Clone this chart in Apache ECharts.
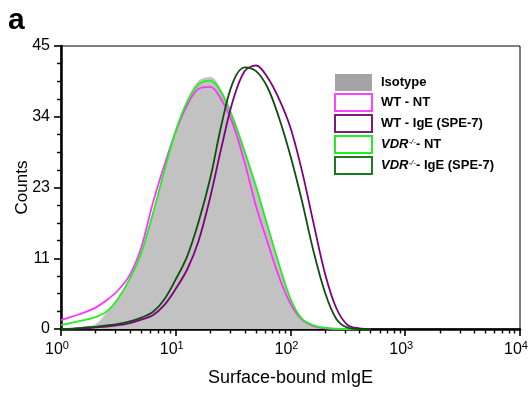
<!DOCTYPE html>
<html><head><meta charset="utf-8">
<script src="https://cdn.jsdelivr.net/npm/echarts@6/dist/echarts.min.js"></script>
<style>html,body{margin:0;padding:0;background:#fff}#c{width:529px;height:396px}</style>
</head><body><div id="c"></div>
<script>
// Fluorescence channel positions (bin centres, log spaced 0.1 decade)
const xValues = [1, 1.26, 1.58, 2.0, 2.51, 3.16, 3.98, 5.01, 6.31, 7.94, 10, 12.6, 15.8, 20.0, 25.1, 31.6, 39.8, 50.1, 63.1, 79.4, 100, 126, 158, 200, 251, 316, 398, 501];
const isotype   = [0, 0.1, 0.3, 0.7, 2.6, 4.7, 7.8, 12.0, 18.3, 25.0, 31.4, 36.4, 39.4, 40.0, 37.9, 33.7, 28.4, 22.7, 16.4, 10.3, 4.7, 1.4, 0.5, 0.15, 0, 0, 0, 0];
const wtNT      = [1.4, 2.0, 2.6, 3.4, 4.6, 6.2, 8.6, 13.0, 20.0, 26.0, 31.4, 35.6, 38.2, 38.5, 36.4, 32.5, 26.5, 19.5, 13.8, 8.3, 4.0, 1.5, 0.5, 0.1, 0, 0, 0, 0];
const wtIgE     = [0, 0.02, 0.1, 0.25, 0.4, 0.6, 0.95, 1.5, 2.2, 3.8, 6.4, 9.5, 14.0, 21.0, 29.0, 36.4, 41.0, 41.9, 40.0, 36.6, 32.0, 25.1, 17.0, 8.8, 3.3, 0.6, 0.1, 0];
const vdrNT     = [0.6, 1.0, 1.4, 1.9, 2.8, 4.9, 8.0, 12.1, 18.3, 25.1, 31.5, 36.1, 38.9, 39.5, 37.5, 33.4, 28.2, 22.6, 16.4, 10.3, 4.8, 1.6, 0.6, 0.2, 0.05, 0, 0, 0];
const vdrIgE    = [0, 0.05, 0.22, 0.35, 0.56, 0.82, 1.2, 1.8, 2.7, 4.7, 7.9, 11.6, 17.0, 24.0, 32.6, 39.3, 41.6, 41.0, 38.4, 33.6, 27.5, 20.3, 12.5, 5.8, 1.6, 0.2, 0, 0];
const seriesNames = ['Isotype', 'WT - NT', 'WT - IgE (SPE-7)', 'VDR-/- - NT', 'VDR-/- - IgE (SPE-7)'];
const yTicks = [0, 11, 23, 34, 45];
const xDecades = [1, 10, 100, 1000, 10000];
const xMinorTicks = [2,3,4,5,6,7,8,9,20,30,40,50,60,70,80,90,200,300,400,500,600,700,800,900,2000,3000,4000,5000,6000,7000,8000,9000];

const FONT = '"Liberation Sans", Arial, sans-serif';
const pair = arr => xValues.map((x, i) => [x, arr[i]]);

const chart = echarts.init(document.getElementById('c'), null, {renderer: 'canvas'});
const lineSeries = (name, arr, color, z) => ({
  name, type: 'line', data: pair(arr), showSymbol: false, symbol: 'none',
  smooth: 0.35, lineStyle: {color, width: 1.8}, itemStyle: {color}, z, clip: true
});

const legendRich = {
  b: {fontFamily: FONT, fontWeight: 'bold', fontSize: 13, color: '#000'},
  i: {fontFamily: FONT, fontWeight: 'bold', fontStyle: 'italic', fontSize: 13, color: '#000'},
  s: {fontFamily: FONT, fontStyle: 'italic', fontSize: 8, color: '#000', verticalAlign: 'top', lineHeight: 8}
};

chart.setOption({
  animation: false,
  backgroundColor: '#fff',
  grid: {left: 61, right: 9, top: 46, bottom: 67, show: true, borderColor: '#000', borderWidth: 1,
         backgroundColor: 'transparent', outerBoundsMode: 'none', containLabel: false},
  graphic: [{type: 'text', left: 8, top: 6, style: {text: 'a', font: 'bold 30px ' + FONT, fill: '#000'}}],
  legend: {
    orient: 'vertical', left: 334, top: 74, itemWidth: 37, itemHeight: 17, itemGap: 2, padding: 0,
    selectedMode: false,
    data: [
      {name: seriesNames[0], icon: 'rect', itemStyle: {color: '#a4a3a7', borderWidth: 0}},
      {name: seriesNames[1], icon: 'rect', itemStyle: {color: '#fff', borderColor: '#ff44ff', borderWidth: 2}},
      {name: seriesNames[2], icon: 'rect', itemStyle: {color: '#fff', borderColor: '#7f1a80', borderWidth: 2}},
      {name: seriesNames[3], icon: 'rect', itemStyle: {color: '#fff', borderColor: '#22ee22', borderWidth: 2}},
      {name: seriesNames[4], icon: 'rect', itemStyle: {color: '#fff', borderColor: '#1d7a1d', borderWidth: 2}}
    ],
    formatter: n => {
      if (n.indexOf('VDR') === 0) return '{i|VDR}{s|-/-}{b|' + n.slice(7) + '}';
      return '{b|' + n + '}';
    },
    textStyle: {padding: [0, 0, 0, 4], rich: legendRich}
  },
  xAxis: [{
    type: 'log', logBase: 10, min: 1, max: 10000, position: 'bottom',
    name: 'Surface-bound mIgE', nameLocation: 'middle', nameGap: 40, nameMoveOverlap: false,
    nameTextStyle: {fontFamily: FONT, fontSize: 18, color: '#000'},
    axisLine: {show: true, lineStyle: {color: '#000', width: 2.5}},
    axisTick: {show: true, length: 7, lineStyle: {color: '#000', width: 1.6}},
    minorTick: {show: false},
    splitLine: {show: false},
    axisLabel: {
      margin: 11, showMinLabel: true, showMaxLabel: true, hideOverlap: false,
      formatter: v => '{b|10}{s|' + Math.round(Math.log10(v)) + '}',
      rich: {
        b: {fontFamily: FONT, fontSize: 16, color: '#000', lineHeight: 18, verticalAlign: 'bottom'},
        s: {fontFamily: FONT, fontSize: 11, color: '#000', lineHeight: 11, verticalAlign: 'top', padding: [0, 8, 0, 0]}
      }
    }
  }, {
    // helper axis carrying the 2..9 minor ticks, moved onto the bottom edge
    type: 'log', logBase: 10, min: 1, max: 10000, position: 'top', offset: -283, gridIndex: 0,
    axisLine: {show: false}, axisLabel: {show: false}, splitLine: {show: false},
    axisTick: {show: true, inside: true, length: 4.5, customValues: xMinorTicks, lineStyle: {color: '#000', width: 1.4}}
  }],
  yAxis: {
    type: 'value', min: 0, max: 45, interval: 11.25,
    name: 'Counts', nameLocation: 'middle', nameGap: 30, nameRotate: 90, nameMoveOverlap: false,
    nameTextStyle: {fontFamily: FONT, fontSize: 17, color: '#000'},
    axisLine: {show: true, lineStyle: {color: '#000', width: 2.5}},
    axisTick: {show: true, length: 7, lineStyle: {color: '#000', width: 1.6}},
    minorTick: {show: true, splitNumber: 4, length: 4, lineStyle: {color: '#000', width: 1.4}},
    splitLine: {show: false},
    axisLabel: {margin: 11, fontFamily: FONT, fontSize: 16, color: '#000', formatter: v => String(Math.round(v))}
  },
  series: [
    {
      name: seriesNames[0], type: 'line', data: pair(isotype), showSymbol: false, symbol: 'none', smooth: 0.35,
      lineStyle: {width: 1, color: '#c4c4c4'}, itemStyle: {color: '#a4a3a7'},
      areaStyle: {color: '#c2c2c2', opacity: 1}, z: 1
    },
    lineSeries(seriesNames[1], wtNT, '#ff33ff', 3),
    lineSeries(seriesNames[3], vdrNT, '#22ee22', 4),
    lineSeries(seriesNames[2], wtIgE, '#800080', 5),
    lineSeries(seriesNames[4], vdrIgE, '#0e4f0e', 6)
  ]
});
</script></body></html>
